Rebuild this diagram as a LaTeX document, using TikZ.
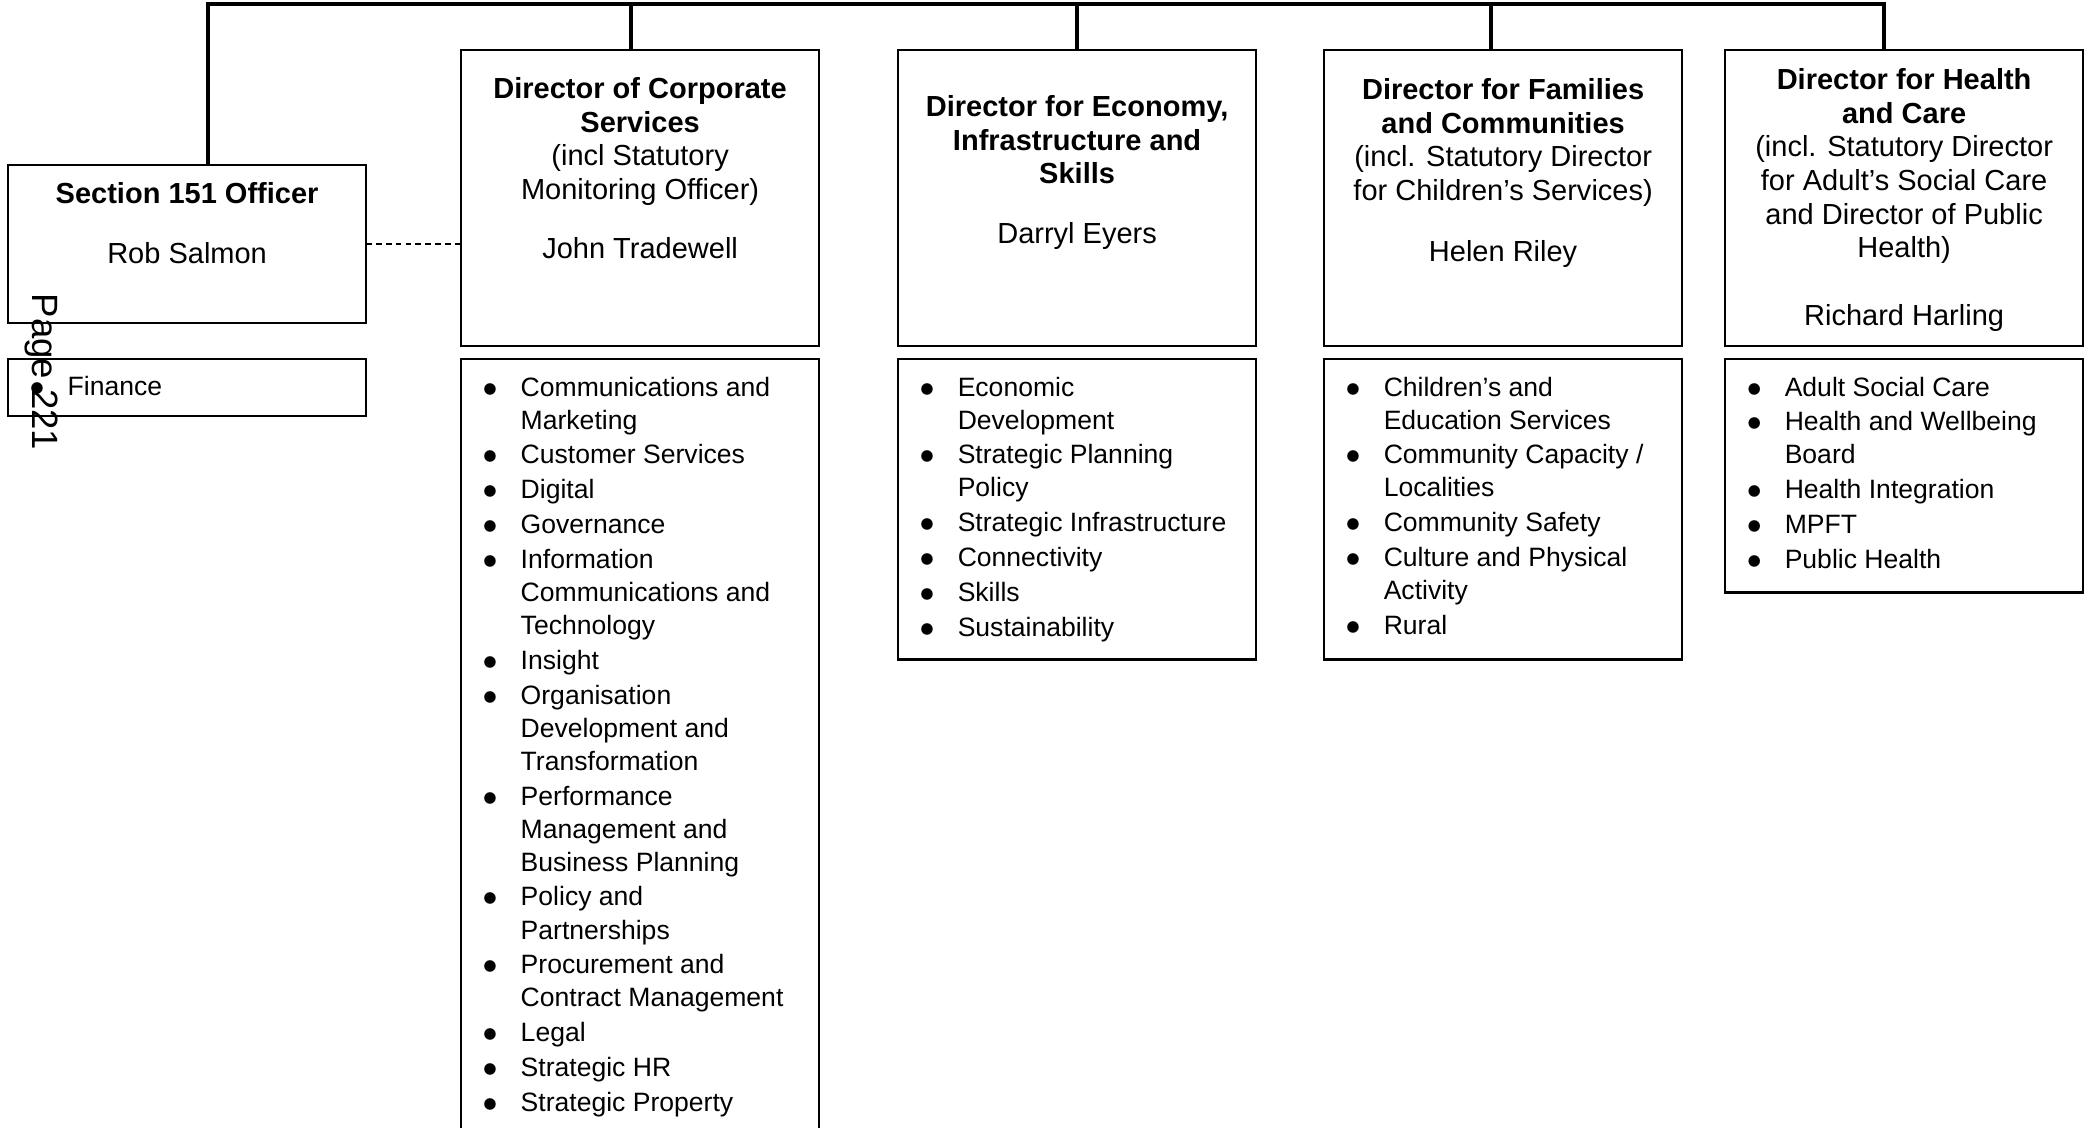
\documentclass[tikz,border=0pt]{standalone}
\usepackage{fontspec}
\setmainfont{Liberation Sans}
\usetikzlibrary{positioning}

\newcommand{\blt}{$\bullet$}

\begin{document}
\begin{tikzpicture}[x=0.01cm, y=-0.01cm,
  headbox/.style={rectangle, draw=black, line width=0.7pt, inner sep=0pt, outer sep=0pt,
                  minimum width=3.58cm, minimum height=2.96cm, anchor=north west},
  listbox/.style={rectangle, draw=black, line width=0.7pt, inner sep=0pt, outer sep=0pt,
                  minimum width=3.58cm, anchor=north west},
  headtxt/.style={align=center, inner sep=0pt, anchor=north, font=\fontsize{8.25}{9.55}\selectfont},
  listtxt/.style={inner sep=0pt, font=\fontsize{7.55}{9.4}\selectfont},
  link/.style={line width=0.95pt},
  dashlink/.style={line width=0.45pt, dash pattern=on 1.6pt off 1.2pt}
]
  \useasboundingbox (0,0) rectangle (2092,1128);
  \clip (0,0) rectangle (2092,1128);

  % section 151 officer
  \node[headbox, minimum height=1.58cm] (s151) at (8,165) {};
  \node[headtxt, below=0.17cm of s151.north] (s151t) {\textbf{Section 151 Officer}\\[0.26cm]Rob Salmon};
  \node[listbox, minimum height=0.57cm, below=0.36cm of s151.south west, anchor=north west] (fin) {};
  \node[listtxt, below right=0.13cm and 0.21cm of fin.north west] (fint)
    {\begin{tabular}{@{}p{0.38cm}@{}l@{}}\blt & Finance\end{tabular}};
  \node[inner sep=0pt, rotate=-90, anchor=base west, font=\fontsize{10.4}{12}\selectfont] (pg) at (32,293) {Page 221};

  % directors
  \node[headbox] (dcs) at (461,50) {};
  \node[headbox] (deis) at (898,50) {};
  \node[headbox] (dfc) at (1324,50) {};
  \node[headbox] (dhc) at (1725,50) {};

  \node[headtxt, below=0.27cm of dcs.north] (dcst)
    {\textbf{Director of Corporate}\\\textbf{Services}\\(incl Statutory\\Monitoring Officer)\\[0.25cm]John Tradewell};
  \node[headtxt, below=0.45cm of deis.north] (deist)
    {\textbf{Director for Economy,}\\\textbf{Infrastructure and}\\\textbf{Skills}\\[0.26cm]Darryl Eyers};
  \node[headtxt, below=0.28cm of dfc.north] (dfct)
    {\textbf{Director for Families}\\\textbf{and Communities}\\(incl. Statutory Director\\for Children’s Services)\\[0.27cm]Helen Riley};
  \node[headtxt, below=0.18cm of dhc.north] (dhct)
    {\textbf{Director for Health}\\\textbf{and Care}\\(incl. Statutory Director\\for Adult’s Social Care\\and Director of Public\\Health)\\[0.34cm]Richard Harling};

  % service lists
  \node[listbox, minimum height=8cm, below=0.13cm of dcs.south west, anchor=north west] (dcsl) {};
  \node[listbox, minimum height=3.00cm, below=0.13cm of deis.south west, anchor=north west] (deisl) {};
  \node[listbox, minimum height=3.00cm, below=0.13cm of dfc.south west, anchor=north west] (dfcl) {};
  \node[listbox, minimum height=2.33cm, below=0.13cm of dhc.south west, anchor=north west] (dhcl) {};

  \node[listtxt, below right=0.13cm and 0.21cm of dcsl.north west] (dcsi)
    {\begin{tabular}{@{}p{0.38cm}@{}l@{}}
     \blt & Communications and\\ & Marketing\\[0.5pt]
     \blt & Customer Services\\[0.5pt]
     \blt & Digital\\[0.5pt]
     \blt & Governance\\[0.5pt]
     \blt & Information\\ & Communications and\\ & Technology\\[0.5pt]
     \blt & Insight\\[0.5pt]
     \blt & Organisation\\ & Development and\\ & Transformation\\[0.5pt]
     \blt & Performance\\ & Management and\\ & Business Planning\\[0.5pt]
     \blt & Policy and\\ & Partnerships\\[0.5pt]
     \blt & Procurement and\\ & Contract Management\\[0.5pt]
     \blt & Legal\\[0.5pt]
     \blt & Strategic HR\\[0.5pt]
     \blt & Strategic Property
     \end{tabular}};
  \node[listtxt, below right=0.13cm and 0.21cm of deisl.north west] (deisi)
    {\begin{tabular}{@{}p{0.38cm}@{}l@{}}
     \blt & Economic\\ & Development\\[0.5pt]
     \blt & Strategic Planning\\ & Policy\\[0.5pt]
     \blt & Strategic Infrastructure\\[0.5pt]
     \blt & Connectivity\\[0.5pt]
     \blt & Skills\\[0.5pt]
     \blt & Sustainability
     \end{tabular}};
  \node[listtxt, below right=0.13cm and 0.21cm of dfcl.north west] (dfci)
    {\begin{tabular}{@{}p{0.38cm}@{}l@{}}
     \blt & Children’s and\\ & Education Services\\[0.5pt]
     \blt & Community Capacity /\\ & Localities\\[0.5pt]
     \blt & Community Safety\\[0.5pt]
     \blt & Culture and Physical\\ & Activity\\[0.5pt]
     \blt & Rural
     \end{tabular}};
  \node[listtxt, below right=0.13cm and 0.21cm of dhcl.north west] (dhci)
    {\begin{tabular}{@{}p{0.38cm}@{}l@{}}
     \blt & Adult Social Care\\[0.5pt]
     \blt & Health and Wellbeing\\ & Board\\[0.5pt]
     \blt & Health Integration\\[0.5pt]
     \blt & MPFT\\[0.5pt]
     \blt & Public Health
     \end{tabular}};

  % connectors
  \coordinate (busL) at (208,4);
  \coordinate (busR) at (1884,4);
  \draw[link] (s151.north -| busL) |- (busR) -- (dhc.north -| busR);
  \foreach \x/\n in {631/dcs, 1077/deis, 1491/dfc}
    \draw[link] (\x,0 |- busL) -- (\x,0 |- \n.north);
  \draw[dashlink] (s151.east) -- (s151.east -| dcs.west);
\end{tikzpicture}
\end{document}
